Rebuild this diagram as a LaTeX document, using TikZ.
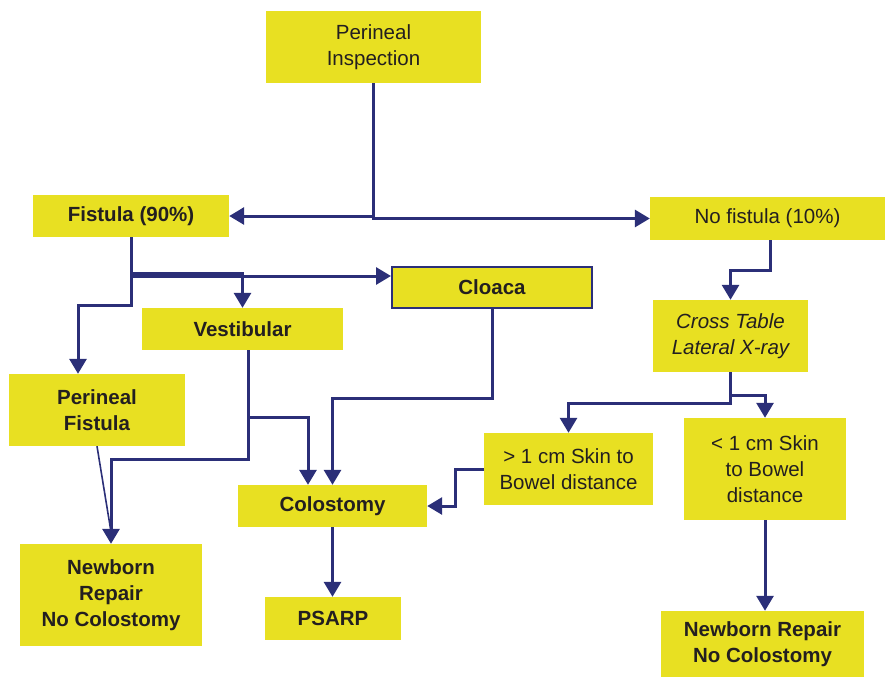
\documentclass[tikz,border=0pt]{standalone}
\usepackage{fontspec}
\setmainfont{Liberation Sans}
\usetikzlibrary{arrows.meta}
\definecolor{boxyellow}{HTML}{E8E022}
\definecolor{navy}{HTML}{2B2F78}
\definecolor{txt}{HTML}{231F20}
\tikzset{
  box/.style={fill=boxyellow, inner sep=0pt, align=center, text=txt,
    font=\fontsize{20.5}{26}\selectfont},
  bbox/.style={box, font=\fontsize{20.5}{26}\selectfont\bfseries},
  conn/.style={draw=navy, line width=3pt, -{Triangle[length=15pt,width=17pt]}},
  thinconn/.style={draw=navy, line width=1.6pt},
}
\begin{document}
\begin{tikzpicture}[x=1pt,y=-1pt]
\useasboundingbox (0,0) rectangle (885,677);
% nodes
\node[box, minimum width=215pt, minimum height=72pt] (insp) at (373.5,47) {Perineal\\Inspection};
\node[bbox, minimum width=196pt, minimum height=42pt] (fist) at (131,216) {Fistula (90\%)};
\node[box, minimum width=235pt, minimum height=43pt] (nofist) at (767.5,218.5) {No fistula (10\%)};
\node[bbox, draw=navy, line width=2pt, minimum width=200pt, minimum height=41pt] (cloaca) at (492,287.5) {Cloaca};
\node[bbox, minimum width=201pt, minimum height=42pt] (vest) at (242.5,329) {Vestibular};
\node[box, font=\fontsize{20.5}{26}\selectfont\itshape, minimum width=155pt, minimum height=72pt] (ct) at (730.5,336) {Cross Table\\Lateral X-ray};
\node[bbox, minimum width=176pt, minimum height=72pt] (pf) at (97,410) {Perineal\\Fistula};
\node[box, minimum width=169pt, minimum height=72pt] (gt) at (568.5,469) {> 1 cm Skin to\\Bowel distance};
\node[box, minimum width=162pt, minimum height=102pt] (lt) at (765,469) {< 1 cm Skin\\to Bowel\\distance};
\node[bbox, minimum width=189pt, minimum height=42pt] (colo) at (332.5,506) {Colostomy};
\node[bbox, minimum width=182pt, minimum height=102pt] (nbl) at (111,595) {Newborn\\Repair\\No Colostomy};
\node[bbox, minimum width=136pt, minimum height=43pt] (psarp) at (333,618.5) {PSARP};
\node[bbox, minimum width=203pt, minimum height=66pt] (nbr) at (762.5,644) {Newborn Repair\\No Colostomy};
% connectors
\draw[conn] (insp.south) |- (fist.east);
\draw[conn] (insp.south) |- (nofist.west);
\draw[conn] (fist.south) |- ([yshift=11.5pt]cloaca.west);
\draw[conn] (fist.south |- 0,273.5) -| (vest.north);
\draw[conn] (fist.south |- 0,274) -- (fist.south |- 0,305) -| ([xshift=-19pt]pf.north);
\draw[thinconn] (pf.south) -- ([yshift=12pt]nbl.north);
\draw[conn] ([xshift=5.5pt]vest.south) -- ++(0,67) -| ([xshift=-24.5pt]colo.north);
\draw[conn] ([xshift=5.5pt]vest.south) -- ++(0,109) -| (nbl.north);
\draw[conn] (cloaca.south) -- ++(0,89) -| (colo.north);
\draw[conn] (colo.south) -- (colo.south |- psarp.north);
\draw[conn] ([xshift=2.5pt]nofist.south) -- ++(0,30) -| (ct.north);
\draw[conn] (ct.south) -- ++(0,31) -| (gt.north);
\draw[conn] (ct.south) -- ++(0,23) -| (lt.north);
\draw[conn] (gt.west) -- ++(-28,0) |- (colo.east);
\draw[conn] (lt.south) -- (lt.south |- nbr.north);
\end{tikzpicture}
\end{document}
